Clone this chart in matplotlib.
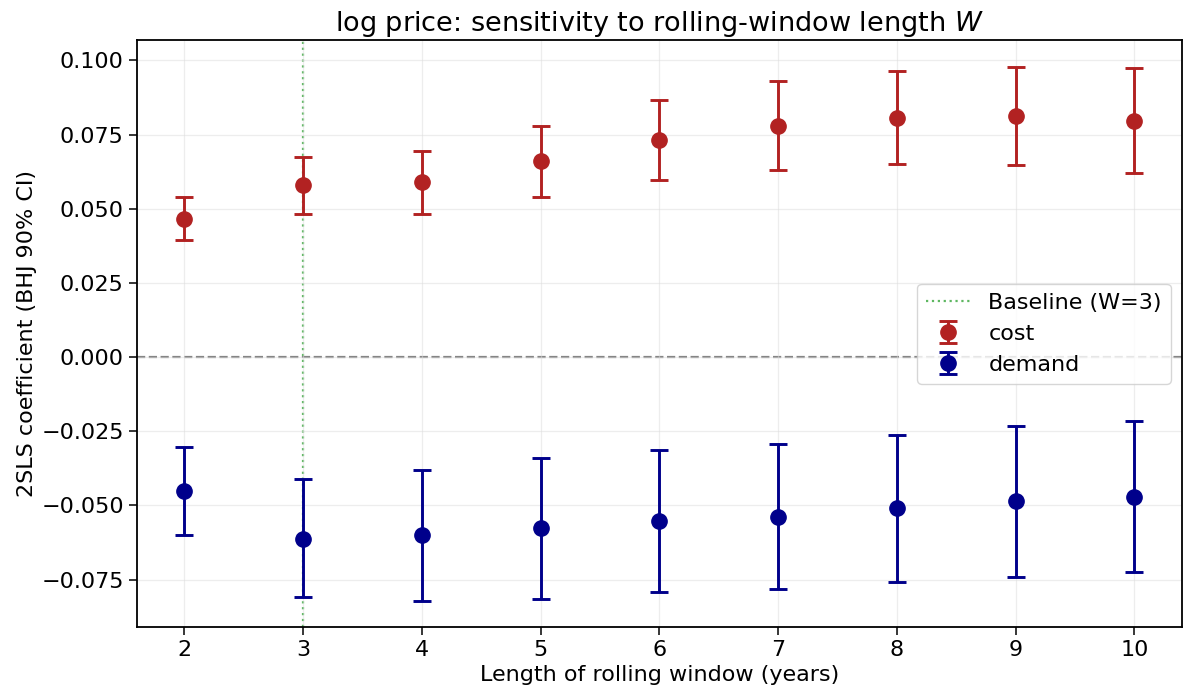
import matplotlib
matplotlib.use("Agg")
import matplotlib.pyplot as plt
import numpy as np

# rolling-window lengths (years)
windows = [2, 3, 4, 5, 6, 7, 8, 9, 10]

# 2SLS coefficients with BHJ 90% CI bounds
cost_coef = [0.0467, 0.0579, 0.0589, 0.0660, 0.0732, 0.0780, 0.0807, 0.0812, 0.0797]
cost_lo = [0.0395, 0.0481, 0.0483, 0.0539, 0.0598, 0.0632, 0.0650, 0.0646, 0.0621]
cost_hi = [0.0538, 0.0675, 0.0695, 0.0778, 0.0867, 0.0930, 0.0963, 0.0978, 0.0975]

demand_coef = [-0.0451, -0.0612, -0.0600, -0.0577, -0.0552, -0.0538, -0.0510, -0.0486, -0.0472]
demand_lo = [-0.0599, -0.0810, -0.0821, -0.0816, -0.0792, -0.0782, -0.0758, -0.0740, -0.0726]
demand_hi = [-0.0303, -0.0411, -0.0379, -0.0339, -0.0312, -0.0294, -0.0261, -0.0231, -0.0217]

BASELINE_W = 3

fig = plt.figure(figsize=(11.84, 6.97), dpi=100)
ax = fig.add_axes([0.1157, 0.100, 0.8826, 0.8422])

ax.axvline(BASELINE_W, color="#4caf50", ls=":", lw=1.6, alpha=0.9,
           label=f"Baseline (W={BASELINE_W})", zorder=1)
ax.axhline(0, color="grey", ls="--", lw=1.6, zorder=1)

for coef, lo, hi, color, lab in (
        (cost_coef, cost_lo, cost_hi, "#b22222", "cost"),
        (demand_coef, demand_lo, demand_hi, "#00008b", "demand")):
    c = np.array(coef)
    yerr = [c - np.array(lo), np.array(hi) - c]
    ax.errorbar(windows, c, yerr=yerr, fmt="o", color=color, ms=11,
                elinewidth=2.1, capsize=6.5, capthick=2.1, label=lab,
                zorder=3)

ax.grid(True, color="#dddddd", alpha=0.5, lw=0.9)
ax.set_xticks(windows)
ax.tick_params(labelsize=16, length=6, width=1.1)
for s in ax.spines.values():
    s.set_linewidth(1.3)
ax.set_xlabel("Length of rolling window (years)", fontsize=16, labelpad=3)
ax.set_ylabel("2SLS coefficient (BHJ 90% CI)", fontsize=16, labelpad=3)
ax.set_title("log price: sensitivity to rolling-window length $W$",
             fontsize=19.5, pad=7)
ax.legend(loc="center right", fontsize=16, framealpha=0.8)

fig.savefig("out.png", dpi=100)
